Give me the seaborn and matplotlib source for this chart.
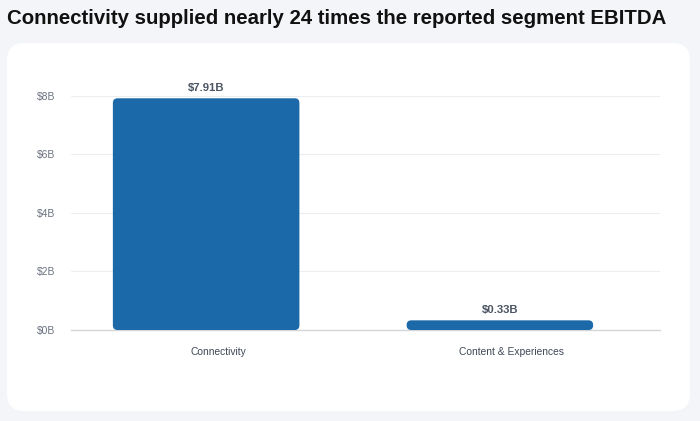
import matplotlib
matplotlib.use("Agg")
import matplotlib.pyplot as plt
import matplotlib.transforms as mtransforms
from matplotlib.patches import FancyBboxPatch
import seaborn as sns
import pandas as pd

# data
segments = ["Connectivity", "Content & Experiences"]
ebitda_b = [7.91, 0.33]
value_labels = ["$7.91B", "$0.33B"]
y_ticks = [0, 2, 4, 6, 8]
y_tick_labels = ["$0B", "$2B", "$4B", "$6B", "$8B"]

bar_color = "#1b69a8"
df = pd.DataFrame({"segment": segments, "ebitda": ebitda_b})

sns.set_style("white")
plt.rcParams["font.family"] = ["Liberation Sans", "DejaVu Sans"]

fig = plt.figure(figsize=(7, 4.21), dpi=100)
fig.patch.set_facecolor("#f4f5f8")

# white rounded card behind the chart
card = FancyBboxPatch((7 / 700, 10 / 421), 683 / 700, 368 / 421,
                      boxstyle="round,pad=0,rounding_size=0.025",
                      transform=fig.transFigure, facecolor="white",
                      edgecolor="none", mutation_aspect=700 / 421, zorder=-1)
fig.patches.append(card)

fig.text(7 / 700, 1 - 18 / 421, "Connectivity supplied nearly 24 times the reported segment EBITDA",
         fontsize=14.7, fontweight="bold", color="#111111", va="center", ha="left")

ax = fig.add_axes([71 / 700, 91 / 421, 589 / 700, 249 / 421])
ax.set_facecolor("none")

sns.barplot(data=df, x="segment", y="ebitda", color=bar_color, width=0.635,
            saturation=1, ax=ax, zorder=3)

ax.set_xlim(-0.46, 1.545)
ax.set_ylim(0, 8.5)

# swap the square bars for rounded ones
r_x = 0.016
px_per_x = 589 / (1.545 + 0.46)
px_per_y = 249 / 8.5
aspect = px_per_x / px_per_y
for p in list(ax.patches):
    x, y = p.get_x(), p.get_y()
    w, h = p.get_width(), p.get_height()
    rounded = FancyBboxPatch((x, y), w, h,
                             boxstyle=f"round,pad=0,rounding_size={r_x}",
                             mutation_aspect=aspect, facecolor=bar_color,
                             edgecolor="none", zorder=3)
    p.remove()
    ax.add_patch(rounded)

for i, (v, lab) in enumerate(zip(ebitda_b, value_labels)):
    ax.annotate(lab, (i, v), xytext=(0, 4), textcoords="offset points",
                ha="center", va="bottom", fontsize=8.2, fontweight="bold",
                color="#4b5563")

ax.set_yticks(y_ticks)
ax.set_yticklabels(y_tick_labels)
ax.tick_params(axis="y", length=0, pad=11.5, labelsize=7.5, labelcolor="#6b7280")
ax.tick_params(axis="x", length=0, pad=12, labelsize=7.4, labelcolor="#3f4856")
# category labels sit a little right of the bar centres in the reference
shift = mtransforms.ScaledTranslation(12 / 100, 0, fig.dpi_scale_trans)
for t in ax.get_xticklabels():
    t.set_transform(t.get_transform() + shift)
ax.grid(axis="y", color="#ebedf0", linewidth=0.8, zorder=0)
ax.set_axisbelow(True)
ax.set_xlabel("")
ax.set_ylabel("")
for s in ["top", "right", "left"]:
    ax.spines[s].set_visible(False)
ax.spines["bottom"].set_color("#d4d6da")
ax.spines["bottom"].set_linewidth(1)

fig.savefig("out.png", dpi=100, facecolor=fig.get_facecolor())
